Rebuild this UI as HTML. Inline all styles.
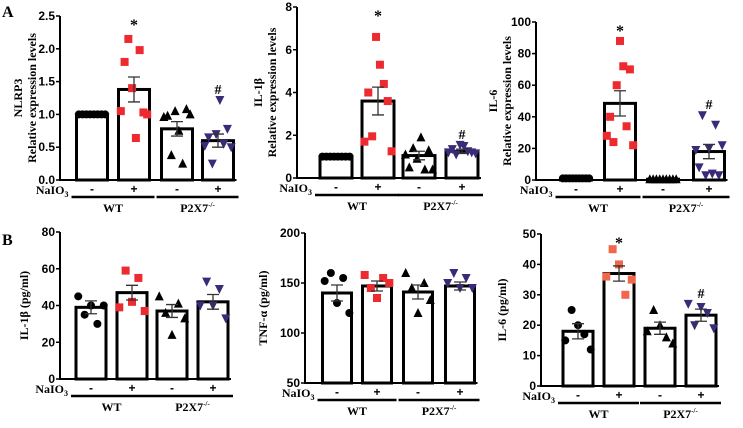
<!DOCTYPE html>
<html><head><meta charset="utf-8"><style>
body{margin:0;background:#fff;}
svg{display:block;}
.tk{font-family:"Liberation Sans",sans-serif;font-weight:bold;font-size:12px;}
.sr{font-family:"Liberation Serif",serif;font-weight:bold;}
</style></head><body>
<svg id="fig" width="743" height="428" viewBox="0 0 743 428" xmlns="http://www.w3.org/2000/svg">
<text x="2" y="17" class="sr" font-size="16">A</text>
<text x="2" y="245" class="sr" font-size="16">B</text>
</svg>
<script>
// ---- data ----
const groups = ["WT","P2X7"];
const treat = ["-","+","-","+"];
const a1Ticks=[0,0.5,1,1.5,2,2.5];
const a1Labels=["0.0","0.5","1.0","1.5","2.0","2.5"];
const a1Means=[1.0,1.38,0.78,0.6];
const a1Sems=[0,0.19,0.11,0.1];
const a1P0=[1,1,1,1,1,1,1,1];
const a1P1=[1.05,1.8,2.15,1.4,0.64,1.98,1.03,1.0];
const a1P2=[0.96,0.98,0.38,1.05,0.75,0.25,1.08,1.0];
const a1P3=[0.52,0.65,0.25,0.7,1.22,0.55,0.78,0.5];
const a2Ticks=[0,2,4,6,8];
const a2Labels=["0","2","4","6","8"];
const a2Means=[1.0,3.6,1.05,1.25];
const a2Sems=[0,0.65,0.2,0.1];
const a2P0=[1,1,1,1,1,1,1,1];
const a2P1=[1.7,4.0,1.95,6.6,5.3,4.4,3.6,1.25];
const a2P2=[1.1,0.5,1.4,0.9,1.9,0.4,1.3,0.4];
const a2P3=[1.2,1.35,1.1,1.55,1.5,1.25,1.2,1.15];
const a3Ticks=[0,20,40,60,80,100];
const a3Labels=["0","20","40","60","80","100"];
const a3Means=[1,48.5,0.5,18];
const a3Sems=[0,8,0,4.5];
const a3P0=[1,1,1,1,1,1,1,1,1];
const a3P1=[28,40,24,60,88,72,34,70,22];
const a3P2=[0.5,0.5,0.5,0.5,0.5,0.5,0.5,0.5,0.5];
const a3P3=[19,8,41,3,20,4,35,3,22];
const b1Ticks=[0,20,40,60,80];
const b1Labels=["0","20","40","60","80"];
const b1Means=[39,47,37,42];
const b1Sems=[3.5,4,3.5,4];
const b1P0=[45,35,40,30,40];
const b1P1=[39,59,42,55,37];
const b1P2=[45,36,24,41,33];
const b1P3=[40,53,40,49,33];
const b2Ticks=[50,100,150,200];
const b2Labels=["50","100","150","200"];
const b2Means=[140,147,141,147];
const b2Sems=[8,5,7,4];
const b2P0=[152,160,130,155,120];
const b2P1=[158,145,135,155,150];
const b2P2=[160,145,120,150,133];
const b2P3=[150,160,145,155,145];
const b3Ticks=[0,10,20,30,40,50];
const b3Labels=["0","10","20","30","40","50"];
const b3Means=[18,37,19,23.3];
const b3Sems=[2.5,2.5,2,2];
const b3P0=[15,25,20,17,12];
const b3P1=[36,45,40,30,35];
const b3P2=[18,25,20,16,14];
const b3P3=[27,20,26,24,19];

// ---- layout ----
const NS="http://www.w3.org/2000/svg";
const svg=document.getElementById("fig");
function mk(tag,attrs,parent){const e=document.createElementNS(NS,tag);for(const k in attrs)e.setAttribute(k,attrs[k]);(parent||svg).appendChild(e);return e;}
const colors=["#000","#ec2a2f","#000","#3a2a78"];
const shapes=["circle","square","tri","itri"];

function panel(id,cfg,ticks,labels,means,sems,pts,sig){
  const g=mk("g",{});
  
  
  const y=v=>cfg.y0-(v-cfg.min)/(cfg.max-cfg.min)*(cfg.y0-cfg.yt);
  means.forEach((m,i)=>{
    const cx=cfg.cx[i],w=cfg.bw;
    const r=mk("rect",{x:cx-w/2,y:y(m),width:w,height:cfg.y0-y(m),fill:"#fff",stroke:"#000","stroke-width":3},g);
    
    
  });
  pts.forEach((arr,i)=>{
    const n=arr.length,span=cfg.bw*0.85;
    arr.forEach((v,j)=>{
      const px=cfg.cx[i]+(n>1?(-span/2+span*j/(n-1)):0),py=y(v),c=colors[i],s=4;
      let e;
      if(shapes[i]=="circle")e=mk("circle",{cx:px,cy:py,r:s,fill:c},g);
      else if(shapes[i]=="square")e=mk("rect",{x:px-s,y:py-s,width:2*s,height:2*s,fill:(id=="b3"?"#f0674c":c)},g);
      else if(shapes[i]=="tri")e=mk("polygon",{points:`${px},${py-s-1} ${px-s-0.5},${py+s} ${px+s+0.5},${py+s}`,fill:c},g);
      else e=mk("polygon",{points:`${px},${py+s+1} ${px-s-0.5},${py-s} ${px+s+0.5},${py-s}`,fill:c},g);
      
      
    });
  });
  means.forEach((m,i)=>{
    if(!sems[i])return;
    const cx=cfg.cx[i],t=y(m+sems[i]),b=y(m-sems[i]);
    const e=mk("path",{d:`M${cx},${t}V${b}M${cx-6},${t}H${cx+6}M${cx-6},${b}H${cx+6}`,stroke:"#333","stroke-width":1.3,fill:"none"},g);
    
    
  });
  const right=cfg.cx[3]+cfg.bw/2+3;
  const ax=mk("path",{d:`M${cfg.ax},${cfg.yt}V${cfg.y0}H${right}`,stroke:"#000","stroke-width":2,fill:"none"},g);
  
  
  ticks.forEach((t,i)=>{
    mk("line",{x1:cfg.ax-4,x2:cfg.ax,y1:y(t),y2:y(t),stroke:"#000","stroke-width":1.5},g);
    const tx=mk("text",{x:cfg.ax-5,y:y(t)+4,"text-anchor":"end",class:"tk"},g);
    tx.textContent=labels[i];
    
    
  });
  const yt=mk("text",{transform:`translate(${cfg.tx},${(cfg.y0+cfg.yt)/2}) rotate(-90)`,"text-anchor":"middle",class:"sr","font-size":12},g);
  
  
  cfg.title.forEach((l,k)=>{const ts=mk("tspan",{x:0,dy:k?14:0},yt);ts.innerHTML=l;});
  const ly=cfg.y0+10;
  const na=mk("text",{x:cfg.cx[0]-cfg.bw/2-8,y:ly+4,"text-anchor":"end",class:"sr","font-size":12},g);
  na.innerHTML='NaIO<tspan font-size="8" dy="3">3</tspan>';
  
  
  treat.forEach((s,i)=>{const t=mk("text",{x:cfg.cx[i],y:ly+3,"text-anchor":"middle",class:"tk","font-size":12},g);t.textContent=s;
    
    });
  [0,2].forEach((i,k)=>{
    const x1=cfg.cx[i]-cfg.bw/2-5,x2=cfg.cx[i+1]+cfg.bw/2+5;
    const l=mk("line",{x1,x2,y1:ly+7,y2:ly+7,stroke:"#000","stroke-width":2.5},g);
    
    
    const t=mk("text",{x:(x1+x2)/2,y:ly+22,"text-anchor":"middle",class:"sr","font-size":12},g);
    t.innerHTML=k?'P2X7<tspan font-size="7" dy="-5">-/-</tspan>':'WT';
    
    
  });
  sig.forEach((s,i)=>{if(!s)return;
    const top=Math.max(means[i]+sems[i],...pts[i]);
    const t=mk("text",{x:cfg.cx[i],y:(s=="*"?cfg.yt+14:y(top)-6),"text-anchor":"middle",class:"sr","font-size":s=="*"?16:14},g);
    t.textContent=s;
    
    });
}
panel("a1",{ax:60,y0:180,yt:16,min:0,max:2.5,cx:[92,134,177,218],bw:31,tx:22,title:["NLRP3","Relative expression levels"]},a1Ticks,a1Labels,a1Means,a1Sems,[a1P0,a1P1,a1P2,a1P3],["","*","","#"]);
panel("a2",{ax:297,y0:178,yt:7,min:0,max:8,cx:[336,378,419,462],bw:32,tx:262,title:["IL-1β","Relative expression levels"]},a2Ticks,a2Labels,a2Means,a2Sems,[a2P0,a2P1,a2P2,a2P3],["","*","","#"]);
panel("a3",{ax:536,y0:180,yt:22,min:0,max:100,cx:[576,620,663,709],bw:31,tx:497,title:["IL-6","Relative expression levels"]},a3Ticks,a3Labels,a3Means,a3Sems,[a3P0,a3P1,a3P2,a3P3],["","*","","#"]);
panel("b1",{ax:60,y0:379,yt:232,min:0,max:80,cx:[91,132,172,213],bw:30,tx:28,title:["IL-1β (pg/ml)"]},b1Ticks,b1Labels,b1Means,b1Sems,[b1P0,b1P1,b1P2,b1P3],["","","",""]);
panel("b2",{ax:305,y0:383,yt:233,min:50,max:200,cx:[337,377,418,460],bw:29,tx:267,title:["TNF-α (pg/ml)"]},b2Ticks,b2Labels,b2Means,b2Sems,[b2P0,b2P1,b2P2,b2P3],["","","",""]);
panel("b3",{ax:541,y0:386,yt:234,min:0,max:50,cx:[578,619,660,701],bw:30,tx:506,title:["IL-6 (pg/ml)"]},b3Ticks,b3Labels,b3Means,b3Sems,[b3P0,b3P1,b3P2,b3P3],["","*","","#"]);
</script>
</body></html>
